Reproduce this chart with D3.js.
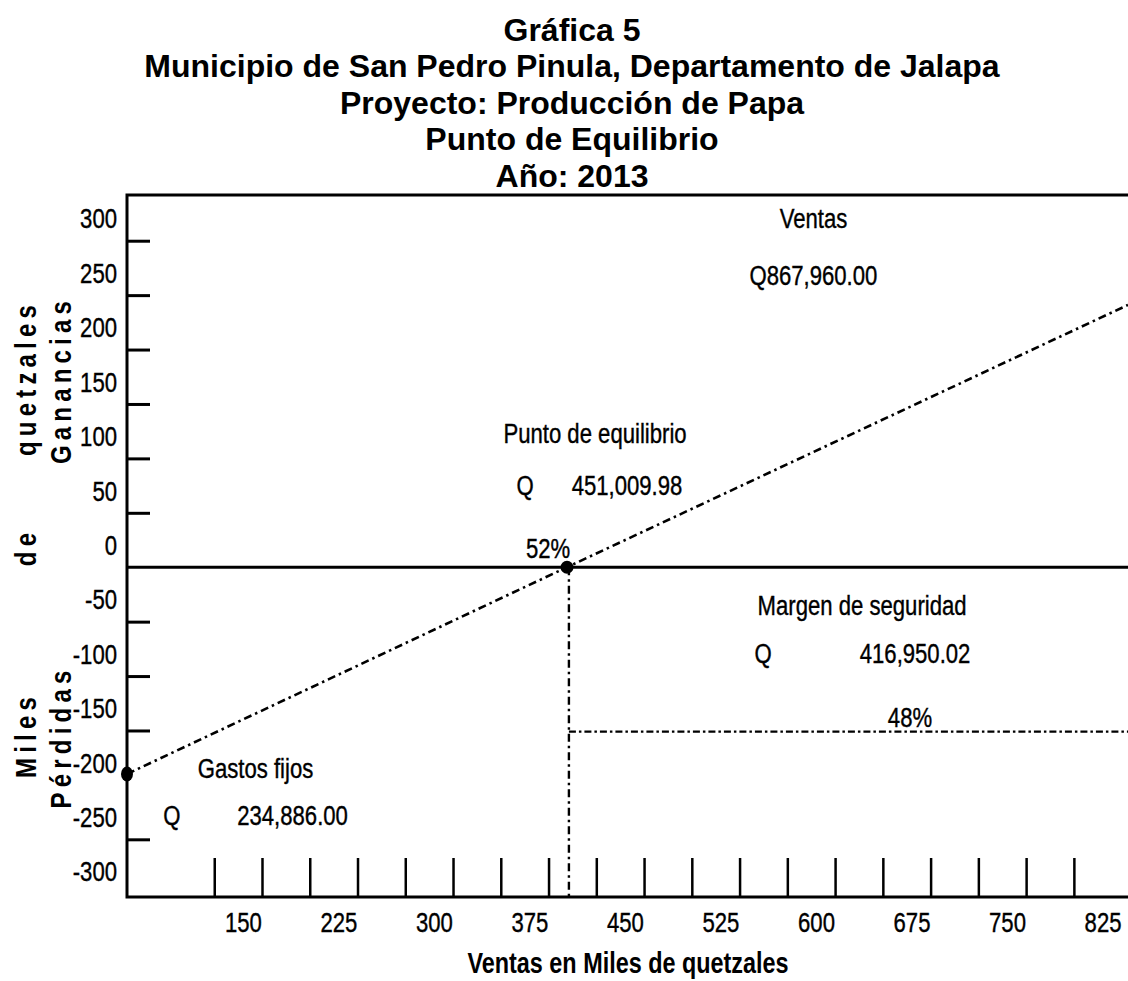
<!DOCTYPE html>
<html>
<head>
<meta charset="utf-8">
<script src="https://cdnjs.cloudflare.com/ajax/libs/d3/7.8.5/d3.min.js"></script>
<style>
  body { margin: 0; background: #fff; }
  svg { display: block; font-family: "Liberation Sans", Arial, sans-serif; }
</style>
</head>
<body>
<div id="chart"></div>
<script>
var titleLines = [
  "Gráfica 5",
  "Municipio de San Pedro Pinula, Departamento de Jalapa",
  "Proyecto: Producción de Papa",
  "Punto de Equilibrio",
  "Año: 2013"
];

// y axis (miles de quetzales)
var yLabels = [300, 250, 200, 150, 100, 50, 0, -50, -100, -150, -200, -250, -300];
var yTicks = [280, 230, 180, 130, 80, 30, -70, -120, -170, -270];
var zeroLevel = -20;

// x axis (ventas en miles)
var xLabels = [150, 225, 300, 375, 450, 525, 600, 675, 750, 825];
var xTicks = [127.5, 165, 202.5, 240, 277.5, 315, 352.5, 390, 427.5, 465, 502.5,
              540, 577.5, 615, 652.5, 690, 727.5, 765, 802.5];

// sales line: gastos fijos -> punto de equilibrio -> end of chart
var salesLine = [[59, -210], [404.5, -20], [845, 221]];
var fixedPoint = [59, -210];
var breakEven = [404.5, -20];
var safetyX = 406;
var safetyLevel = -171;

var notes = [
  { text: "Ventas", x: 598, y: 301 },
  { text: "Q867,960.00", x: 598, y: 248.5 },
  { text: "Punto de equilibrio", x: 426.5, y: 103.3 },
  { text: "Q", x: 371.5, y: 55.6 },
  { text: "451,009.98", x: 451.6, y: 55.6 },
  { text: "52%", x: 389.6, y: -2.3 },
  { text: "Margen de seguridad", x: 636.2, y: -54.7 },
  { text: "Q", x: 558.4, y: -98.8 },
  { text: "416,950.02", x: 677.8, y: -98.8 },
  { text: "48%", x: 673.8, y: -157.6 },
  { text: "Gastos fijos", x: 159.9, y: -204.5 },
  { text: "Q", x: 94.3, y: -247.6 },
  { text: "234,886.00", x: 189, y: -247.6 }
];

var svgWidth = 1128;
var svgHeight = 981;
var margin = { top: 195, right: 0, bottom: 84, left: 127 };
var width = svgWidth - margin.left - margin.right;
var height = svgHeight - margin.top - margin.bottom;
var narrow = "scale(0.79,1)";

var svg = d3.select("#chart")
  .append("svg")
  .attr("width", svgWidth)
  .attr("height", svgHeight);

svg.append("rect")
  .attr("width", svgWidth)
  .attr("height", svgHeight)
  .attr("fill", "#fff");

// Title
svg.append("g")
  .selectAll("text")
  .data(titleLines)
  .enter()
  .append("text")
  .attr("x", 572)
  .attr("y", (d, i) => 40.5 + i * 36.5)
  .attr("text-anchor", "middle")
  .attr("font-size", 32)
  .attr("font-weight", "bold")
  .text(d => d);

var chartGroup = svg.append("g")
  .attr("transform", `translate(${margin.left}, ${margin.top})`);

var xScale = d3.scaleLinear().domain([59, 845]).range([0, width]);
var yScale = d3.scaleLinear().domain([322, -323]).range([0, height]);

// tick marks
var yTickAxis = chartGroup.append("g")
  .call(d3.axisRight(yScale).tickValues(yTicks).tickSize(23).tickFormat(""));
yTickAxis.select(".domain").remove();
yTickAxis.selectAll("line").attr("stroke", "#000").attr("stroke-width", 3);

var xTickAxis = chartGroup.append("g")
  .attr("transform", `translate(0, ${height})`)
  .call(d3.axisTop(xScale).tickValues(xTicks).tickSize(39).tickFormat(""));
xTickAxis.select(".domain").remove();
xTickAxis.selectAll("line").attr("stroke", "#000").attr("stroke-width", 2.5);

// tick labels (plain hyphen for negatives, as in the original)
var yLabelAxis = chartGroup.append("g")
  .call(d3.axisLeft(yScale).tickValues(yLabels).tickSize(0).tickPadding(10)
    .tickFormat(d => String(d)));
yLabelAxis.select(".domain").remove();
yLabelAxis.selectAll("text")
  .attr("x", 0)
  .attr("transform", "translate(-10,0) " + narrow)
  .attr("font-size", 28)
  .attr("font-family", "Liberation Sans, Arial, sans-serif")
  .attr("fill", "#000")
  .attr("stroke", "#000")
  .attr("stroke-width", 0.4);

var xLabelAxis = chartGroup.append("g")
  .attr("transform", `translate(0, ${height})`)
  .call(d3.axisBottom(xScale).tickValues(xLabels).tickSize(0).tickPadding(15));
xLabelAxis.select(".domain").remove();
xLabelAxis.selectAll("text")
  .attr("transform", narrow)
  .attr("font-size", 28)
  .attr("font-family", "Liberation Sans, Arial, sans-serif")
  .attr("fill", "#000")
  .attr("stroke", "#000")
  .attr("stroke-width", 0.4);

// frame and zero line
var x0 = xScale.range()[0], x1 = xScale.range()[1];
var y0 = yScale.range()[0], y1 = yScale.range()[1];
chartGroup.append("path")
  .attr("d", `M${x1},${y0}H${x0}V${y1}H${x1}`)
  .attr("fill", "none")
  .attr("stroke", "#000")
  .attr("stroke-width", 3);

chartGroup.append("line")
  .attr("x1", x0).attr("x2", x1)
  .attr("y1", yScale(zeroLevel)).attr("y2", yScale(zeroLevel))
  .attr("stroke", "#000")
  .attr("stroke-width", 3);

// sales line
var line = d3.line().x(d => xScale(d[0])).y(d => yScale(d[1]));
chartGroup.append("path")
  .datum(salesLine)
  .attr("d", line)
  .attr("fill", "none")
  .attr("stroke", "#000")
  .attr("stroke-width", 2.6)
  .attr("stroke-dasharray", "8,4,2.5,4");

// margen de seguridad
chartGroup.append("path")
  .datum([[safetyX, zeroLevel], [safetyX, yScale.domain()[1]]])
  .attr("d", line)
  .attr("fill", "none")
  .attr("stroke", "#000")
  .attr("stroke-width", 2.4)
  .attr("stroke-dasharray", "8,4,2.5,4");

chartGroup.append("path")
  .datum([[safetyX, safetyLevel], [xScale.domain()[1], safetyLevel]])
  .attr("d", line)
  .attr("fill", "none")
  .attr("stroke", "#000")
  .attr("stroke-width", 2.2)
  .attr("stroke-dasharray", "7,3,2.5,3");

// points
chartGroup.append("ellipse")
  .attr("cx", xScale(fixedPoint[0]))
  .attr("cy", yScale(fixedPoint[1]))
  .attr("rx", 6)
  .attr("ry", 7.5)
  .attr("fill", "#000");

chartGroup.append("circle")
  .attr("cx", xScale(breakEven[0]))
  .attr("cy", yScale(breakEven[1]))
  .attr("r", 6.5)
  .attr("fill", "#000");

// annotations
chartGroup.selectAll(".note")
  .data(notes)
  .enter()
  .append("text")
  .attr("class", "note")
  .attr("transform", d => `translate(${xScale(d.x)}, ${yScale(d.y)}) ${narrow}`)
  .attr("dy", "0.36em")
  .attr("text-anchor", "middle")
  .attr("font-size", 28)
  .attr("stroke", "#000")
  .attr("stroke-width", 0.4)
  .text(d => d.text);

// axis titles
svg.append("text")
  .attr("transform", "translate(628, 973) scale(0.78,1)")
  .attr("text-anchor", "middle")
  .attr("font-size", 30)
  .attr("font-weight", "bold")
  .text("Ventas en Miles de quetzales");

var sideWords = [
  { text: "Miles", x: 36, y: 735 },
  { text: "de", x: 36, y: 547 },
  { text: "quetzales", x: 36, y: 378 },
  { text: "Pérdidas", x: 71, y: 737 },
  { text: "Ganancias", x: 71, y: 380 }
];
svg.append("g")
  .selectAll("text")
  .data(sideWords)
  .enter()
  .append("text")
  .attr("transform", d => `translate(${d.x}, ${d.y}) rotate(-90) scale(0.8,1)`)
  .attr("text-anchor", "middle")
  .attr("font-size", 30)
  .attr("font-weight", "bold")
  .attr("letter-spacing", 6.5)
  .text(d => d.text);
</script>
</body>
</html>
